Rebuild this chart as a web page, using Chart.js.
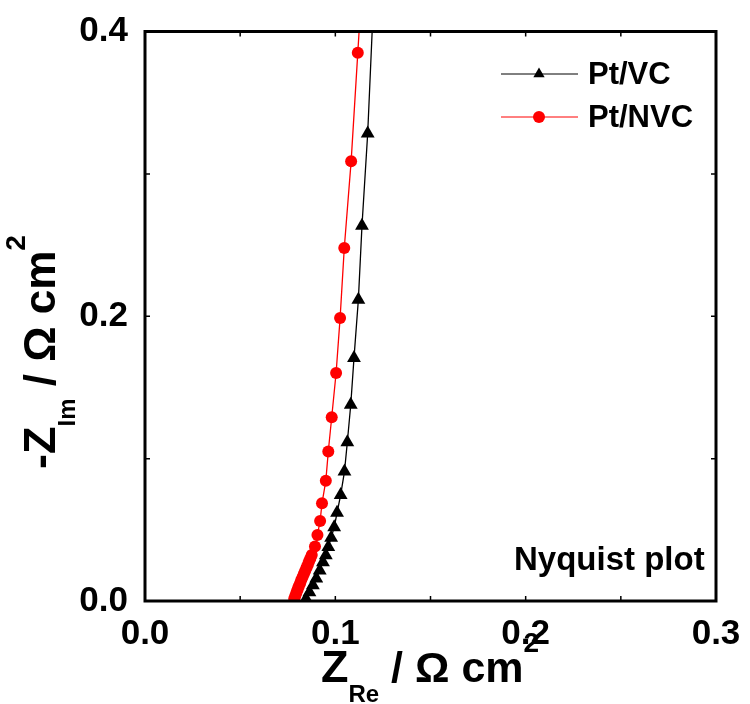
<!DOCTYPE html>
<html>
<head>
<meta charset="utf-8">
<script src="https://cdn.jsdelivr.net/npm/chart.js@4/dist/chart.umd.min.js"></script>
<style>
  body { margin: 0; background: #fff; }
  #wrap { width: 750px; height: 704px; position: relative; }
</style>
</head>
<body>
<div id="wrap"><canvas id="nyquist"></canvas></div>
<script>
// Nyquist data (Z_Re, -Z_Im in ohm cm2)
const vcRe = [0.0846, 0.0864, 0.0882, 0.0900, 0.0918, 0.0935, 0.0950, 0.0963, 0.0978, 0.0994,
              0.1009, 0.1028, 0.1048, 0.1063, 0.1081, 0.1098, 0.1121, 0.1140, 0.1170, 0.1200];
const vcIm = [0.0015, 0.0062, 0.0110, 0.0158, 0.0215, 0.0272, 0.0322, 0.0380, 0.0445, 0.0518,
              0.0619, 0.0745, 0.0909, 0.1115, 0.1378, 0.1706, 0.2116, 0.2636, 0.3283, 0.4200];

const nvcRe = [0.0784, 0.0790, 0.0796, 0.0802, 0.0808, 0.0815, 0.0821, 0.0828, 0.0835, 0.0842,
               0.0849, 0.0856, 0.0862, 0.0869, 0.0876, 0.0893, 0.0906, 0.0920, 0.0930, 0.0950,
               0.0963, 0.0981, 0.1004, 0.1025, 0.1047, 0.1083, 0.1118, 0.1162];
const nvcIm = [0.0015, 0.0037, 0.0059, 0.0081, 0.0103, 0.0125, 0.0147, 0.0169, 0.0191, 0.0213,
               0.0235, 0.0257, 0.0279, 0.0301, 0.0323, 0.0382, 0.0464, 0.0562, 0.0687, 0.0844,
               0.1050, 0.1291, 0.1601, 0.1987, 0.2479, 0.3088, 0.3850, 0.4820];

const seriesNames = ['Pt/VC', 'Pt/NVC'];
const xTicks = [0, 0.1, 0.2, 0.3];
const yTicks = [0, 0.2, 0.4];

const FONT = "'Liberation Sans', Arial, sans-serif";

const toPoints = (xs, ys) => xs.map((x, i) => ({ x, y: ys[i] }));

// draws a run of text pieces (sub/superscripts) starting at x along the baseline
function richText(ctx, parts, x, y) {
    parts.forEach(p => {
        ctx.font = 'bold ' + p.size + 'px ' + FONT;
        ctx.fillText(p.t, x, y + (p.dy || 0));
        x += ctx.measureText(p.t).width;
    });
}

const framePlugin = {
    id: 'frame',
    afterDatasetsDraw(chart) {
        const { ctx, chartArea: a, scales: { x, y } } = chart;
        ctx.save();
        ctx.strokeStyle = '#000';

        // inward ticks on all four sides
        ctx.lineWidth = 1.5;
        ctx.beginPath();
        [0.05, 0.1, 0.15, 0.2, 0.25].forEach(v => {
            const px = x.getPixelForValue(v);
            ctx.moveTo(px, a.bottom); ctx.lineTo(px, a.bottom - 5);
            ctx.moveTo(px, a.top); ctx.lineTo(px, a.top + 5);
        });
        [0.1, 0.2, 0.3].forEach(v => {
            const py = y.getPixelForValue(v);
            ctx.moveTo(a.left, py); ctx.lineTo(a.left + 5, py);
            ctx.moveTo(a.right, py); ctx.lineTo(a.right - 5, py);
        });
        ctx.stroke();

        ctx.lineWidth = 3;
        ctx.strokeRect(a.left, a.top, a.right - a.left, a.bottom - a.top);

        // legend
        const legend = [
            { y: 74, color: '#000', style: 'triangle', r: 6.5 },
            { y: 117, color: '#ff0000', style: 'circle', r: 6 }
        ];
        legend.forEach((l, i) => {
            ctx.strokeStyle = l.color;
            ctx.lineWidth = 1;
            ctx.beginPath();
            ctx.moveTo(501, l.y); ctx.lineTo(578, l.y);
            ctx.stroke();
            ctx.fillStyle = l.color;
            Chart.helpers.drawPoint(ctx, { pointStyle: l.style, radius: l.r, borderWidth: 0, rotation: 0 }, 539, l.y);
            ctx.fillStyle = '#000';
            ctx.font = 'bold 31px ' + FONT;
            ctx.textBaseline = 'middle';
            ctx.textAlign = 'left';
            ctx.fillText(seriesNames[i], 588, l.y + 1);
        });

        ctx.font = 'bold 33px ' + FONT;
        ctx.fillText('Nyquist plot', 514, 561);

        // axis titles
        ctx.textBaseline = 'alphabetic';
        richText(ctx, [
            { t: 'Z', size: 45 },
            { t: 'Re', size: 24, dy: 20 },
            { t: ' / \u03A9 cm', size: 43 },
            { t: '2', size: 28, dy: -30 }
        ], 321, 682);

        ctx.translate(55, 469);
        ctx.rotate(-Math.PI / 2);
        richText(ctx, [
            { t: '-Z', size: 45 },
            { t: 'Im', size: 24, dy: 20 },
            { t: ' / \u03A9 cm', size: 44 },
            { t: '2', size: 28, dy: -30 }
        ], 0, 0);
        ctx.restore();
    }
};

new Chart(document.getElementById('nyquist'), {
    type: 'scatter',
    data: {
        datasets: [
            {
                label: seriesNames[0],
                data: toPoints(vcRe, vcIm),
                showLine: true,
                borderColor: '#000',
                backgroundColor: '#000',
                borderWidth: 1.3,
                pointStyle: 'triangle',
                pointRadius: 8,
                pointBorderWidth: 0,
                pointBackgroundColor: '#000'
            },
            {
                label: seriesNames[1],
                data: toPoints(nvcRe, nvcIm),
                showLine: true,
                borderColor: '#ff0000',
                backgroundColor: '#ff0000',
                borderWidth: 1.3,
                pointStyle: 'circle',
                pointRadius: 6,
                pointBorderWidth: 0,
                pointBackgroundColor: '#ff0000'
            }
        ]
    },
    options: {
        responsive: true,
        maintainAspectRatio: false,
        animation: false,
        devicePixelRatio: 1,
        layout: { padding: { top: 31.5, right: 34, left: 0, bottom: 0 } },
        plugins: { legend: { display: false }, tooltip: { enabled: false } },
        scales: {
            x: {
                type: 'linear',
                min: xTicks[0],
                max: xTicks[xTicks.length - 1],
                afterFit: s => { s.height = 103; s.paddingLeft = 0; s.paddingRight = 0; },
                afterBuildTicks: s => { s.ticks = xTicks.map(v => ({ value: v })); },
                grid: { display: false, drawTicks: false },
                border: { display: false },
                ticks: {
                    color: '#000',
                    padding: 12,
                    maxRotation: 0,
                    autoSkip: false,
                    font: { family: FONT, size: 35, weight: 'bold' },
                    callback: v => v.toFixed(1)
                }
            },
            y: {
                type: 'linear',
                min: yTicks[0],
                max: yTicks[yTicks.length - 1],
                afterFit: s => { s.width = 145; s.paddingTop = 0; s.paddingBottom = 0; },
                afterBuildTicks: s => { s.ticks = yTicks.map(v => ({ value: v })); },
                grid: { display: false, drawTicks: false },
                border: { display: false },
                ticks: {
                    color: '#000',
                    padding: 17,
                    autoSkip: false,
                    font: { family: FONT, size: 35, weight: 'bold' },
                    callback: v => v.toFixed(1)
                }
            }
        }
    },
    plugins: [framePlugin]
});
</script>
</body>
</html>
